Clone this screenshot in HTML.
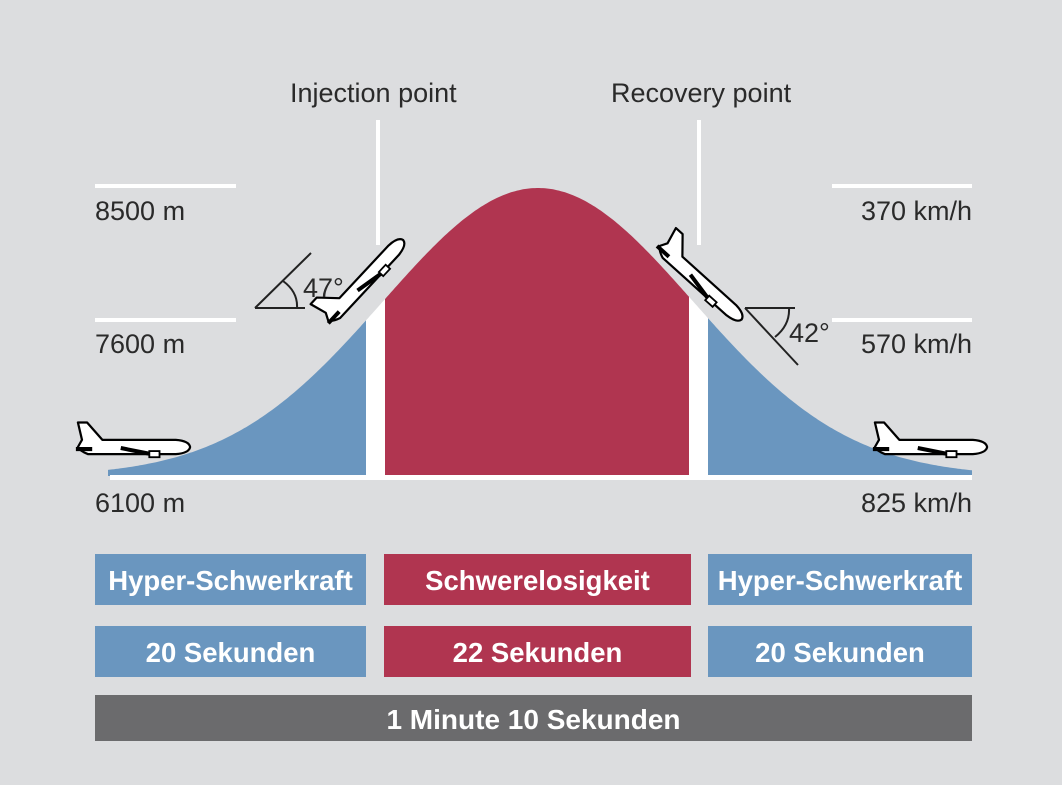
<!DOCTYPE html>
<html><head><meta charset="utf-8"><style>
html,body{margin:0;padding:0;background:#dcdddf;}
body{width:1062px;height:785px;overflow:hidden;position:relative;font-family:"Liberation Sans",sans-serif;}
.t{position:absolute;color:#2a2a2a;font-size:27px;white-space:nowrap;}
.b{position:absolute;color:#fff;font-weight:bold;font-size:27.5px;display:flex;align-items:center;justify-content:center;padding-top:3px;box-sizing:border-box;}
</style></head><body>
<svg width="1062" height="785" style="position:absolute;left:0;top:0">
<defs>
<g id="pl">
<path d="M-50,-7 L-54,-24 L-45,-24 L-30,-7 L42,-7 Q55,-6 56,0 Q55,6 42,7 L-44,7 Q-52,4 -54,0 Z" fill="#fff" stroke="#000" stroke-width="2.2" stroke-linejoin="round"/>
<path d="M-56,2 L-40,2" stroke="#000" stroke-width="4"/>
<path d="M-12,1 L18,7 L26,7" stroke="#000" stroke-width="4" fill="none"/>
<rect x="16" y="4" width="10" height="6" fill="#fff" stroke="#000" stroke-width="1.8"/>
</g>
</defs>
<path id="red" fill="#b03550"/>
<path id="blL" fill="#6a96bf"/>
<path id="blR" fill="#6a96bf"/>
<path id="wg1" fill="#fff"/>
<path id="wg2" fill="#fff"/>
<rect x="110" y="475" width="862" height="5" fill="#fff"/>
<g fill="#fff">
<rect x="95" y="184" width="141" height="4"/><rect x="95" y="318" width="141" height="4"/>
<rect x="832" y="184" width="140" height="4"/><rect x="832" y="318" width="140" height="4"/>
<rect x="376" y="120" width="4" height="125"/><rect x="697" y="120" width="4" height="125"/>
</g>
<g stroke="#222" stroke-width="2" fill="none">
<path d="M255,308 L305,308 M255,308 L311,253 M283,281 Q298,292 297,308"/>
<path d="M745,308 L795,308 M745,308 L798,365 M789,308 Q790,325 775,337"/>
</g>
<use href="#pl" transform="translate(133,447) scale(1.02)"/>
<use href="#pl" transform="translate(930,447) scale(1.02)"/>
<use href="#pl" transform="translate(365,281) rotate(-47) scale(1.0)"/>
<use href="#pl" transform="translate(700,282) rotate(42) scale(1.0)"/>
</svg>
<script>
function y(x){return 476-288*Math.exp(-Math.pow(x-538,2)/(2*155*155));}
function reg(a,b){var d="M"+a+",476";for(var x=a;x<=b;x+=2)d+=" L"+x+","+y(x).toFixed(1);d+=" L"+b+","+y(b).toFixed(1)+" L"+b+",476 Z";return d;}
document.getElementById('red').setAttribute('d',reg(385,689));
document.getElementById('blL').setAttribute('d',reg(108,366));
document.getElementById('blR').setAttribute('d',reg(708,972));
document.getElementById('wg1').setAttribute('d',reg(366,385));
document.getElementById('wg2').setAttribute('d',reg(689,708));
</script>
<div class="t" style="left:290px;top:78px;">Injection point</div>
<div class="t" style="left:611px;top:78px;">Recovery point</div>
<div class="t" style="left:95px;top:196px;">8500 m</div>
<div class="t" style="left:95px;top:329px;">7600 m</div>
<div class="t" style="left:95px;top:488px;">6100 m</div>
<div class="t" style="right:90px;top:196px;">370 km/h</div>
<div class="t" style="right:90px;top:329px;">570 km/h</div>
<div class="t" style="right:90px;top:488px;">825 km/h</div>
<div class="t" style="left:303px;top:273px;">47°</div>
<div class="t" style="left:789px;top:318px;">42°</div>
<div class="b" style="left:95px;top:554px;width:271px;height:51px;background:#6a96bf">Hyper-Schwerkraft</div>
<div class="b" style="left:384px;top:554px;width:307px;height:51px;background:#b03550">Schwerelosigkeit</div>
<div class="b" style="left:708px;top:554px;width:264px;height:51px;background:#6a96bf">Hyper-Schwerkraft</div>
<div class="b" style="left:95px;top:626px;width:271px;height:51px;background:#6a96bf">20 Sekunden</div>
<div class="b" style="left:384px;top:626px;width:307px;height:51px;background:#b03550">22 Sekunden</div>
<div class="b" style="left:708px;top:626px;width:264px;height:51px;background:#6a96bf">20 Sekunden</div>
<div class="b" style="left:95px;top:695px;width:877px;height:46px;background:#6b6b6d;font-size:28px">1 Minute 10 Sekunden</div>
</body></html>
